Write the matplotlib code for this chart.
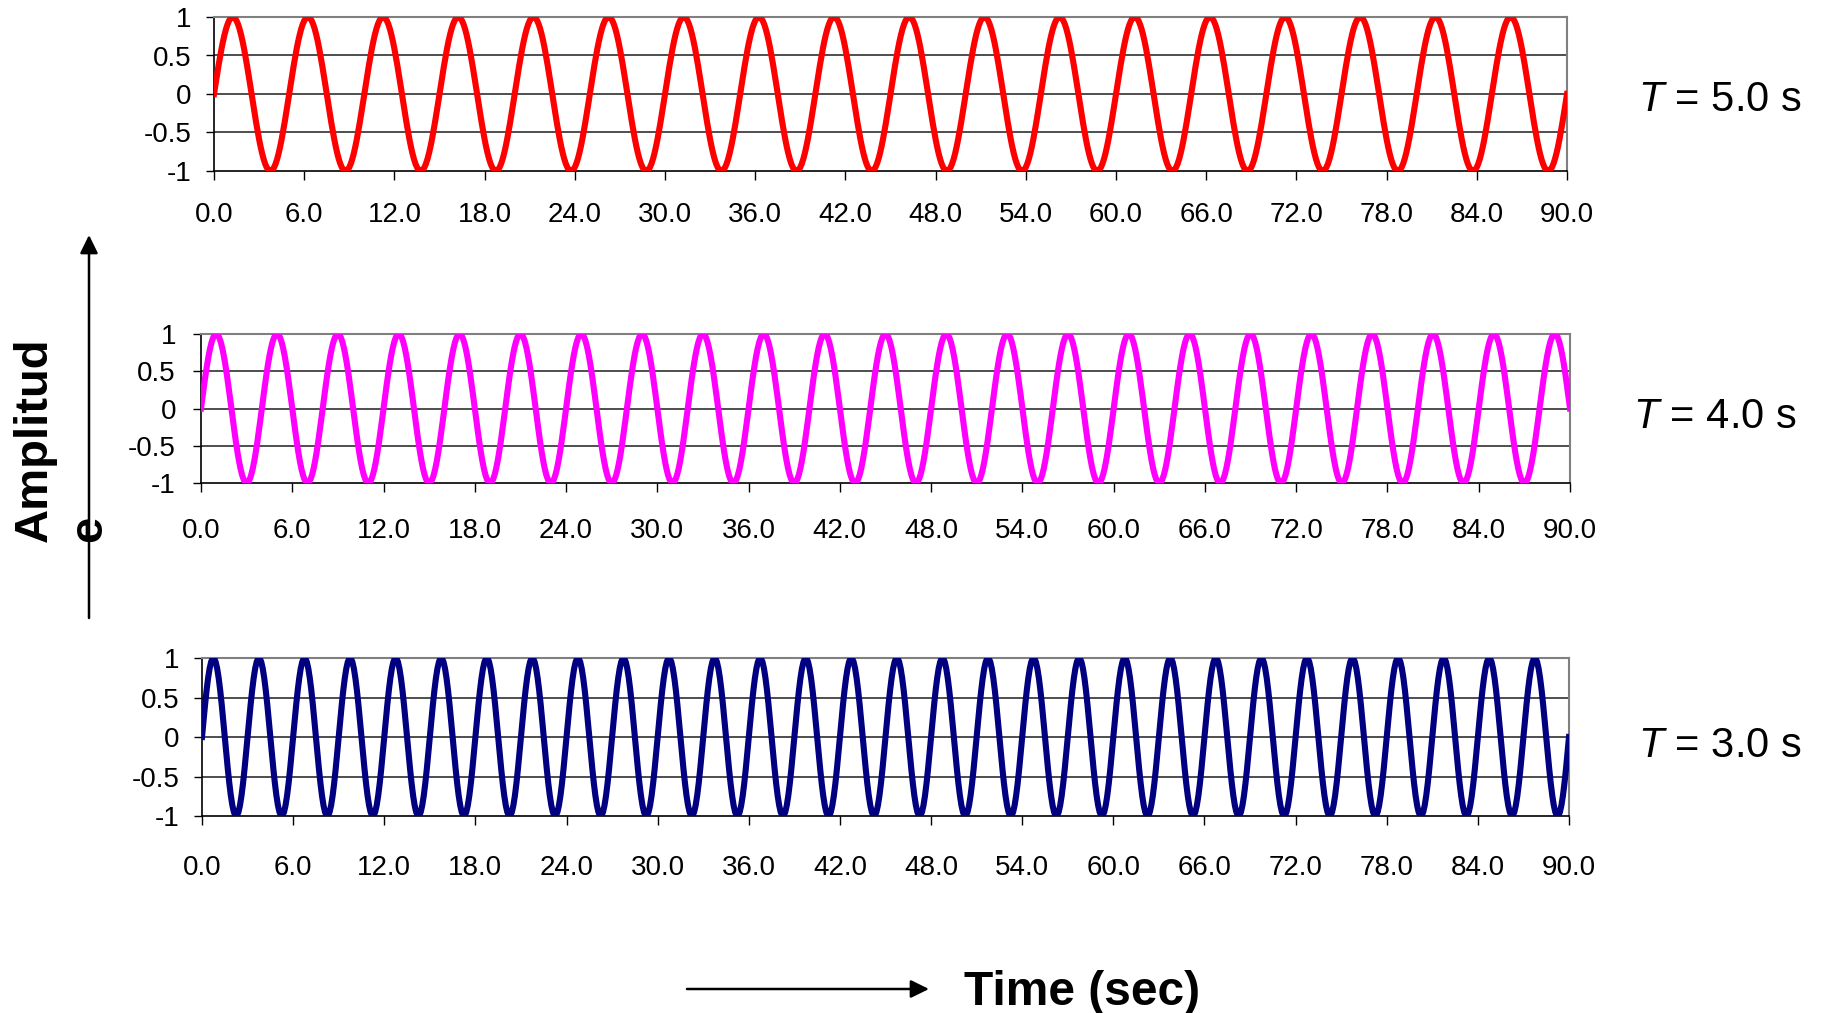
import numpy as np
import matplotlib
matplotlib.use("Agg")
import matplotlib.pyplot as plt
from matplotlib.patches import FancyArrowPatch, ArrowStyle

plt.rcParams['font.family'] = ['Liberation Sans', 'DejaVu Sans']
plt.rcParams['mathtext.fontset'] = 'custom'
plt.rcParams['mathtext.rm'] = 'Liberation Sans'
plt.rcParams['mathtext.it'] = 'Liberation Sans:italic'

# Signal definitions
periods = [5.0, 4.0, 3.0]
colors = ['#FF0000', '#FF00FF', '#000080']
period_labels = ['5.0 s', '4.0 s', '3.0 s']
y_ticks = [-1, -0.5, 0, 0.5, 1]
y_tick_labels = ['-1', '-0.5', '0', '0.5', '1']
x_ticks = [0, 6, 12, 18, 24, 30, 36, 42, 48, 54, 60, 66, 72, 78, 84, 90]
x_tick_labels = ['%.1f' % v for v in x_ticks]
dt = 0.1
t_end = 90.0

W, H = 1821, 1013
fig = plt.figure(figsize=(W / 100, H / 100), dpi=100)
fig.patch.set_facecolor('white')


def px_axes(left, top, right, bottom):
    return fig.add_axes([left / W, 1 - bottom / H, (right - left) / W, (bottom - top) / H])


# panel boxes in pixels: left, top, right, bottom
boxes = [(214, 17, 1567, 171), (201, 334, 1570, 483), (202, 658, 1569, 816)]
xpads = [15.5, 18.5, 21.5]
ypads = [10, 12, 10]
label_pos = [(1638, 111), (1633, 428), (1638, 757)]

t = np.arange(0, t_end + dt / 2, dt)

for i, (T, c) in enumerate(zip(periods, colors)):
    ax = px_axes(*boxes[i])
    y = np.sin(2 * np.pi * t / T)
    ax.plot(t, y, color=c, lw=4.4, solid_joinstyle='round', zorder=3)
    ax.set_xlim(0, 90)
    ax.set_ylim(-1, 1)
    ax.set_yticks(y_ticks)
    ax.set_yticklabels(y_tick_labels)
    ax.set_xticks(x_ticks)
    ax.set_xticklabels(x_tick_labels)
    ax.tick_params(axis='x', direction='out', length=6.5, width=1.0, pad=xpads[i],
                   labelsize=20, color='black')
    ax.tick_params(axis='y', direction='out', length=6, width=1.0, pad=ypads[i],
                   labelsize=20, color='black')
    for v in [-0.5, 0, 0.5]:
        ax.axhline(v, color='#303030', lw=1.2, zorder=1)
    ax.spines['left'].set_color('black')
    ax.spines['bottom'].set_color('black')
    ax.spines['left'].set_linewidth(1.2)
    ax.spines['bottom'].set_linewidth(1.2)
    ax.spines['top'].set_color('#808080')
    ax.spines['right'].set_color('#808080')
    ax.spines['top'].set_linewidth(1.5)
    ax.spines['right'].set_linewidth(1.5)
    lx, ly = label_pos[i]
    fig.text(lx / W, 1 - ly / H, r'$\mathit{T}$ = ' + period_labels[i], fontsize=30,
             ha='left', va='baseline')

# Axis captions
fig.text(13 / W, 1 - 542 / H, 'Amplitud\ne', rotation=90, fontsize=34, fontweight='bold',
         ha='left', va='bottom', multialignment='left', linespacing=1.3)
fig.text(964 / W, 1 - 992 / H, 'Time (sec)', fontsize=34.5, fontweight='bold',
         ha='left', va='center')

style = ArrowStyle('-|>', head_length=0.55, head_width=0.27)
fig.add_artist(FancyArrowPatch((89 / W, 1 - 618 / H), (89 / W, 1 - 235 / H),
                               transform=fig.transFigure, arrowstyle=style,
                               mutation_scale=20, lw=1.8, color='black',
                               shrinkA=0, shrinkB=0))
fig.add_artist(FancyArrowPatch((687 / W, 1 - 989 / H), (929 / W, 1 - 989 / H),
                               transform=fig.transFigure, arrowstyle=style,
                               mutation_scale=20, lw=1.8, color='black',
                               shrinkA=0, shrinkB=0))

fig.savefig('out.png', dpi=100, facecolor='white')
